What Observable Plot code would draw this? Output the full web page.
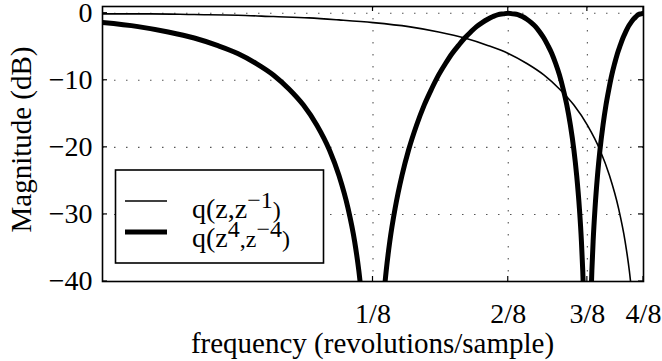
<!DOCTYPE html>
<html>
<head>
<meta charset="utf-8">
<script src="https://cdn.jsdelivr.net/npm/d3@7"></script>
<script src="https://cdn.jsdelivr.net/npm/@observablehq/plot@0.6"></script>
<style>
  html, body { margin: 0; padding: 0; background: #fff; }
  #chart svg { display: block; }
</style>
</head>
<body>
<div id="chart"></div>
<script>
// Magnitude response of the prototype q(z,z^-1) and its 4x-upsampled version q(z^4,z^-4),
// frequency in revolutions/sample on a log axis, magnitude in dB.

// Prototype q(z,z^-1): frequency and magnitude (dB)
const thinFreq = [0.03125, 0.04, 0.05, 0.0625, 0.075, 0.09, 0.105, 0.125, 0.15, 0.175, 0.2, 0.225,
  0.25, 0.275, 0.3, 0.325, 0.35, 0.375, 0.4, 0.42, 0.44, 0.455, 0.465, 0.475];
const thinDb = [-0.1, -0.1, -0.2, -0.3, -0.5, -0.7, -1.0, -1.4, -2.0, -2.8, -3.7, -4.8,
  -6.0, -7.5, -9.2, -11.3, -13.7, -16.7, -20.4, -24.2, -29.1, -34.0, -38.4, -44.2];

// Upsampled q(z^4,z^-4): null marks the notches at 1/8 and 3/8 where the curve leaves the axes
const thickFreq = [
  0.03125, 0.0375, 0.04375, 0.05, 0.05625, 0.0625, 0.06875, 0.075, 0.08125, 0.0875, 0.09375, 0.1,
  0.105, 0.11, 0.11375, 0.11625, 0.11875,
  0.125,
  0.13125, 0.13375, 0.13625, 0.14, 0.145, 0.15, 0.15625, 0.1625, 0.16875, 0.175, 0.18125, 0.1875,
  0.19375, 0.2, 0.20625, 0.2125, 0.21875, 0.225, 0.23125, 0.2375, 0.24375, 0.25,
  0.25625, 0.2625, 0.26875, 0.275, 0.28125, 0.2875, 0.29375, 0.3, 0.30625, 0.3125, 0.31875, 0.325,
  0.33125, 0.3375, 0.34375, 0.35, 0.355, 0.36, 0.36375, 0.36625, 0.36875,
  0.375,
  0.38125, 0.38375, 0.38625, 0.39, 0.395, 0.4, 0.40625, 0.4125, 0.41875, 0.425, 0.43125, 0.4375,
  0.44375, 0.45, 0.45625, 0.4625, 0.46875, 0.475, 0.48125, 0.4875, 0.49375, 0.5
];
const thickDb = [
  -1.4, -2.0, -2.8, -3.7, -4.8, -6.0, -7.5, -9.2, -11.3, -13.7, -16.7, -20.4,
  -24.2, -29.1, -34.0, -38.4, -44.2,
  null,
  -44.2, -38.4, -34.0, -29.1, -24.2, -20.4, -16.7, -13.7, -11.3, -9.2, -7.5, -6.0,
  -4.8, -3.7, -2.8, -2.0, -1.4, -0.9, -0.5, -0.2, -0.1, 0,
  -0.1, -0.2, -0.5, -0.9, -1.4, -2.0, -2.8, -3.7, -4.8, -6.0, -7.5, -9.2,
  -11.3, -13.7, -16.7, -20.4, -24.2, -29.1, -34.0, -38.4, -44.2,
  null,
  -44.2, -38.4, -34.0, -29.1, -24.2, -20.4, -16.7, -13.7, -11.3, -9.2, -7.5, -6.0,
  -4.8, -3.7, -2.8, -2.0, -1.4, -0.9, -0.5, -0.2, -0.1, 0
];

// Axis ticks
const xTicks = [0.125, 0.25, 0.375, 0.5];
const xTickLabels = ["1/8", "2/8", "3/8", "4/8"];
const yTicks = [-40, -30, -20, -10, 0];
const yTickLabels = ["\u221240", "\u221230", "\u221220", "\u221210", "0"];

const xDomain = [1 / 32, 1 / 2];
const yDomain = [-40, 1];

const thin = thinFreq.map((f, i) => ({f, db: thinDb[i]}));
const thick = thickFreq.map((f, i) => ({f, db: thickDb[i]}));

const gridStyle = {stroke: "#555", strokeOpacity: 1, strokeWidth: 1.1, strokeDasharray: "1.5,10.5"};
const font = "'Liberation Serif', 'Times New Roman', serif";

const chart = Plot.plot({
  width: 662,
  height: 361,
  marginLeft: 102,
  marginRight: 19,
  marginTop: 6,
  marginBottom: 80,
  style: {fontFamily: font, fontSize: "28px", background: "#fff", color: "#000", overflow: "visible"},
  x: {type: "log", domain: xDomain},
  y: {domain: yDomain},
  marks: [
    Plot.gridX(xTicks.slice(0, 3), gridStyle),
    Plot.gridY(yTicks.slice(1), gridStyle),
    Plot.line(thin, {x: "f", y: "db", stroke: "#000", strokeWidth: 1.6, curve: "monotone-x", clip: true}),
    Plot.line(thick, {x: "f", y: "db", stroke: "#000", strokeWidth: 5, curve: "monotone-x", clip: true}),
    Plot.frame({stroke: "#000", strokeWidth: 1.6}),
    Plot.axisX({ticks: xTicks, tickFormat: d => xTickLabels[xTicks.indexOf(d)], tickSize: 0,
      tickPadding: 22, fontSize: 28, label: null}),
    Plot.axisY({ticks: yTicks, tickFormat: d => yTickLabels[yTicks.indexOf(d)], tickSize: 0,
      tickPadding: 10, fontSize: 28, label: null})
  ]
});

document.getElementById("chart").appendChild(chart);

// Inward ticks on all four sides, axis titles and legend
const svg = d3.select(chart);
const sx = chart.scale("x"), sy = chart.scale("y");
const x0 = sx.apply(xDomain[0]), x1 = sx.apply(xDomain[1]);
const yB = sy.apply(yDomain[0]), yT = sy.apply(yDomain[1]);
const tickLen = 5;

const ticks = svg.append("g").attr("stroke", "#000").attr("stroke-width", 1.2);
for (const t of xTicks) {
  const px = sx.apply(t);
  ticks.append("line").attr("x1", px).attr("x2", px).attr("y1", yB).attr("y2", yB - tickLen);
  ticks.append("line").attr("x1", px).attr("x2", px).attr("y1", yT).attr("y2", yT + tickLen);
}
for (const t of yTicks) {
  const py = sy.apply(t);
  ticks.append("line").attr("x1", x0).attr("x2", x0 + tickLen).attr("y1", py).attr("y2", py);
  ticks.append("line").attr("x1", x1).attr("x2", x1 - tickLen).attr("y1", py).attr("y2", py);
}

const titles = svg.append("g").attr("font-family", font).attr("font-size", 29).attr("fill", "#000");
titles.append("text")
  .attr("x", (x0 + x1) / 2).attr("y", 353)
  .attr("text-anchor", "middle")
  .text("frequency (revolutions/sample)");
titles.append("text")
  .attr("transform", `translate(31,${(yB + yT) / 2 - 4}) rotate(-90)`)
  .attr("text-anchor", "middle")
  .text("Magnitude (dB)");

// Legend box
const legend = svg.append("g").attr("font-family", font).attr("fill", "#000").attr("text-anchor", "start");
legend.append("rect")
  .attr("x", x0 + 13.5).attr("y", 170).attr("width", 208).attr("height", 93)
  .attr("fill", "#fff").attr("stroke", "#000").attr("stroke-width", 1.6);
legend.append("line")
  .attr("x1", x0 + 23).attr("x2", x0 + 65).attr("y1", 201).attr("y2", 201)
  .attr("stroke", "#000").attr("stroke-width", 1.6);
legend.append("line")
  .attr("x1", x0 + 23).attr("x2", x0 + 65).attr("y1", 232).attr("y2", 232)
  .attr("stroke", "#000").attr("stroke-width", 5);

function legendLabel(y, parts) {
  const t = legend.append("text").attr("x", x0 + 90).attr("y", y).attr("font-size", 28)
    .attr("text-anchor", "start");
  for (const [s, sup] of parts) {
    t.append("tspan")
      .attr("font-size", sup ? 24 : 28)
      .attr("dy", sup === 1 ? -10 : sup === -1 ? 10 : 0)
      .text(s);
  }
}
// second element: 1 = start superscript, -1 = return to baseline
legendLabel(218, [["q(z,z", 0], ["\u22121", 1], [")", -1]]);
legendLabel(246.5, [["q(z", 0], ["4", 1], [",z", -1], ["\u22124", 1], [")", -1]]);
</script>
</body>
</html>
